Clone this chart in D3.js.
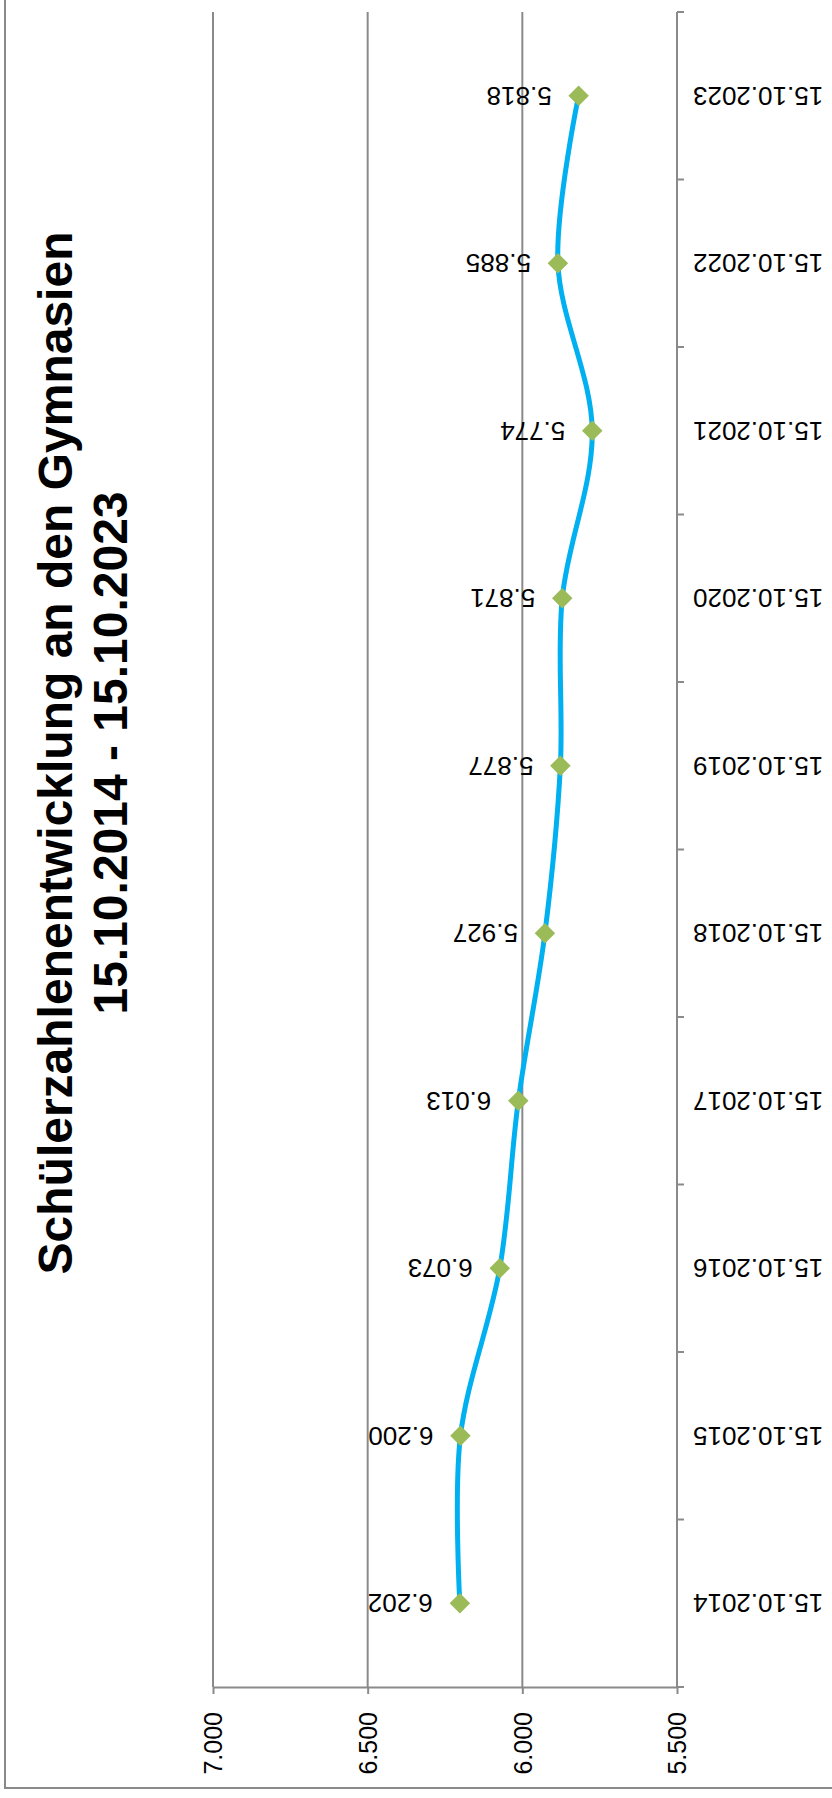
<!DOCTYPE html>
<html>
<head>
<meta charset="utf-8">
<script src="https://cdn.jsdelivr.net/npm/d3@7"></script>
<style>
  html, body { margin: 0; padding: 0; background: #fff; }
  svg { display: block; font-family: "Liberation Sans", Arial, sans-serif; }
</style>
</head>
<body>
<svg width="832" height="1798"></svg>
<script>
const categories = [
  '15.10.2014', '15.10.2015', '15.10.2016', '15.10.2017', '15.10.2018',
  '15.10.2019', '15.10.2020', '15.10.2021', '15.10.2022', '15.10.2023'
];
const values = [6202, 6200, 6073, 6013, 5927, 5877, 5871, 5774, 5885, 5818];
const valueTicks = [5500, 6000, 6500, 7000];
const titleLines = ['Schülerzahlenentwicklung an den Gymnasien', '15.10.2014 - 15.10.2023'];

const grey = '#8a8a8a';
const de = d3.formatLocale({ decimal: ',', thousands: '.', grouping: [3], currency: ['', '€'] });
const fmt = de.format(',');

const svg = d3.select('svg');

// outer chart border (runs off top and right edge)
svg.append('path')
    .attr('d', 'M5,-10V1788H840')
    .attr('fill', 'none')
    .attr('stroke', grey)
    .attr('stroke-width', 2);

// value axis runs horizontally, categories vertically (bottom to top)
const plotTop = 12, plotBottom = 1687;
const x = d3.scaleLinear().domain([5500, 7000]).range([677, 213]);
const y = d3.scaleBand().domain(categories).range([plotBottom, plotTop]);
const bw = y.bandwidth();

// gridlines
svg.append('g').selectAll('line')
    .data(valueTicks.filter(v => v > 5500)).enter()
    .append('line')
    .attr('x1', d => x(d)).attr('x2', d => x(d))
    .attr('y1', plotTop).attr('y2', plotBottom)
    .attr('stroke', grey).attr('stroke-width', 2);

// value axis
const xAxis = svg.append('g')
    .attr('transform', `translate(0,${plotBottom})`)
    .call(d3.axisBottom(x).tickValues(valueTicks).tickFormat(fmt).tickSize(7).tickSizeOuter(0));
xAxis.select('.domain').attr('stroke', grey).attr('stroke-width', 2);
xAxis.selectAll('.tick line').attr('stroke', grey).attr('stroke-width', 2);
xAxis.selectAll('.tick text')
    .attr('transform', 'rotate(-90)')
    .attr('x', -25).attr('y', 0).attr('dy', '0.35em')
    .attr('text-anchor', 'end')
    .attr('font-size', 25)
    .attr('font-family', '"Liberation Sans", Arial, sans-serif')
    .attr('fill', '#000');

// category axis line
svg.append('line')
    .attr('x1', x(5500)).attr('x2', x(5500))
    .attr('y1', plotTop).attr('y2', plotBottom)
    .attr('stroke', grey).attr('stroke-width', 2);

// category tick marks on band edges
const edges = categories.map(c => y(c)).concat([plotBottom]);
svg.append('g').selectAll('line')
    .data(edges).enter()
    .append('line')
    .attr('x1', x(5500)).attr('x2', x(5500) + 7)
    .attr('y1', d => d).attr('y2', d => d)
    .attr('stroke', grey).attr('stroke-width', 2);

// category labels (upside down)
svg.append('g').selectAll('text')
    .data(categories).enter()
    .append('text')
    .attr('transform', d => `translate(${x(5500) + 16},${y(d) + bw / 2}) rotate(180)`)
    .attr('text-anchor', 'end')
    .attr('dy', '0.35em')
    .attr('font-size', 26)
    .text(d => d);

const pts = categories.map((c, i) => ({ c: c, v: values[i] }));

// smoothed line
svg.append('path')
    .datum(pts)
    .attr('d', d3.line().x(d => x(d.v)).y(d => y(d.c) + bw / 2).curve(d3.curveCardinal.tension(0)))
    .attr('fill', 'none')
    .attr('stroke', '#00b0f0')
    .attr('stroke-width', 5)
    .attr('stroke-linejoin', 'round');

// diamond markers
svg.append('g').selectAll('path')
    .data(pts).enter()
    .append('path')
    .attr('d', d3.symbol(d3.symbolSquare, 210))
    .attr('transform', d => `translate(${x(d.v)},${y(d.c) + bw / 2}) rotate(45)`)
    .attr('fill', '#9bbb59');

// data labels (upside down)
svg.append('g').selectAll('text')
    .data(pts).enter()
    .append('text')
    .attr('transform', d => `translate(${x(d.v) - 27},${y(d.c) + bw / 2}) rotate(180)`)
    .attr('text-anchor', 'start')
    .attr('dy', '0.35em')
    .attr('font-size', 26)
    .text(d => fmt(d.v));

// title, rotated
svg.append('g').selectAll('text')
    .data(titleLines).enter()
    .append('text')
    .attr('transform', (d, i) => `translate(${72 + i * 55},753) rotate(-90)`)
    .attr('text-anchor', 'middle')
    .attr('font-size', 48)
    .attr('font-weight', 'bold')
    .text(d => d);
</script>
</body>
</html>
